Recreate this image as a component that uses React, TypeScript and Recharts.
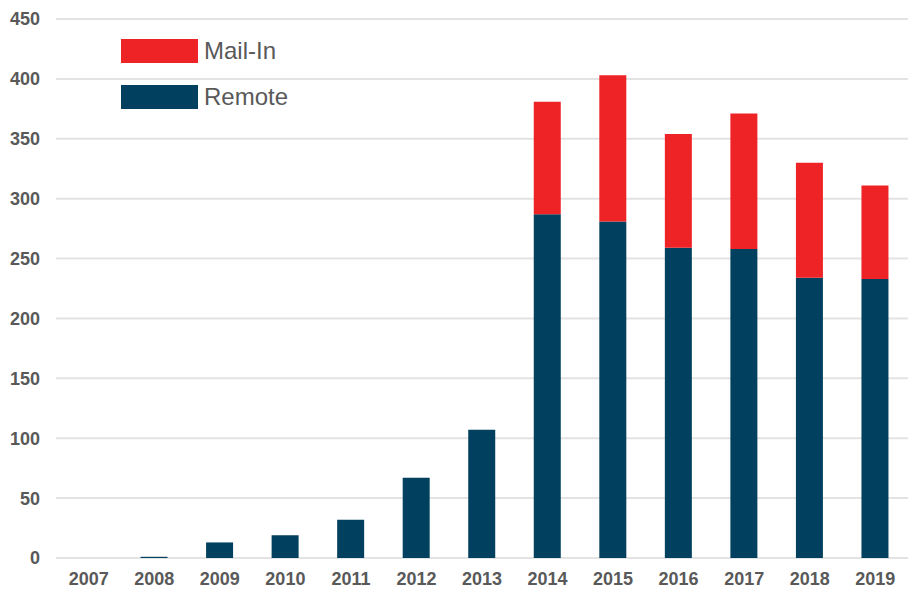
import React from 'react';
import { BarChart, Bar, XAxis, YAxis, CartesianGrid, Legend } from 'recharts';

const years = ['2007', '2008', '2009', '2010', '2011', '2012', '2013', '2014', '2015', '2016', '2017', '2018', '2019'];
const remote = [0, 1, 13, 19, 32, 67, 107, 287, 281, 259, 258, 234, 233];
const mailIn = [0, 0, 0, 0, 0, 0, 0, 94, 122, 95, 113, 96, 78];
const yTicks = [0, 50, 100, 150, 200, 250, 300, 350, 400, 450];

const data = years.map((year, i) => ({ year, remote: remote[i], mailIn: mailIn[i] }));

const RED = '#EE2326';
const NAVY = '#02405F';
const TEXT = '#595959';

// Mail-In goes on top in the legend, same as the stack
function LegendBox({ payload }: any) {
  const items = [...(payload || [])].sort((a: any, b: any) => (a.value === 'Mail-In' ? -1 : b.value === 'Mail-In' ? 1 : 0));
  return (
    <div style={{ fontFamily: 'Liberation Sans, Arial, sans-serif' }}>
      {items.map((entry: any) => (
        <div key={entry.value} style={{ display: 'flex', alignItems: 'center', height: 46 }}>
          <div style={{ width: 77, height: 24, background: entry.color }} />
          <span style={{ marginLeft: 6, fontSize: 24, color: TEXT }}>{entry.value}</span>
        </div>
      ))}
    </div>
  );
}

export default function App() {
  const tickStyle = { fontSize: 18, fontWeight: 700, fill: TEXT, fontFamily: 'Liberation Sans, Arial, sans-serif' };
  return (
    <div style={{ position: 'absolute', left: 0, top: 0, background: '#fff' }}>
      <BarChart width={908} height={590} data={data} margin={{ top: 19, right: 0, bottom: 0, left: 0 }} barSize={27}>
        <CartesianGrid vertical={false} stroke="#E3E3E3" strokeWidth={2} />
        <XAxis
          dataKey="year"
          height={32}
          tickLine={false}
          axisLine={false}
          tick={tickStyle}
          tickMargin={8}
          interval={0}
        />
        <YAxis
          width={56}
          domain={[0, 450]}
          ticks={yTicks}
          tickLine={false}
          axisLine={false}
          tick={tickStyle}
          tickMargin={10}
        />
        <Legend
          layout="vertical"
          align="center"
          verticalAlign="middle"
          content={<LegendBox />}
          wrapperStyle={{ left: 121, top: 28, width: 'auto' }}
        />
        <Bar dataKey="remote" name="Remote" stackId="a" fill={NAVY} isAnimationActive={false} />
        <Bar dataKey="mailIn" name="Mail-In" stackId="a" fill={RED} isAnimationActive={false} />
      </BarChart>
    </div>
  );
}
